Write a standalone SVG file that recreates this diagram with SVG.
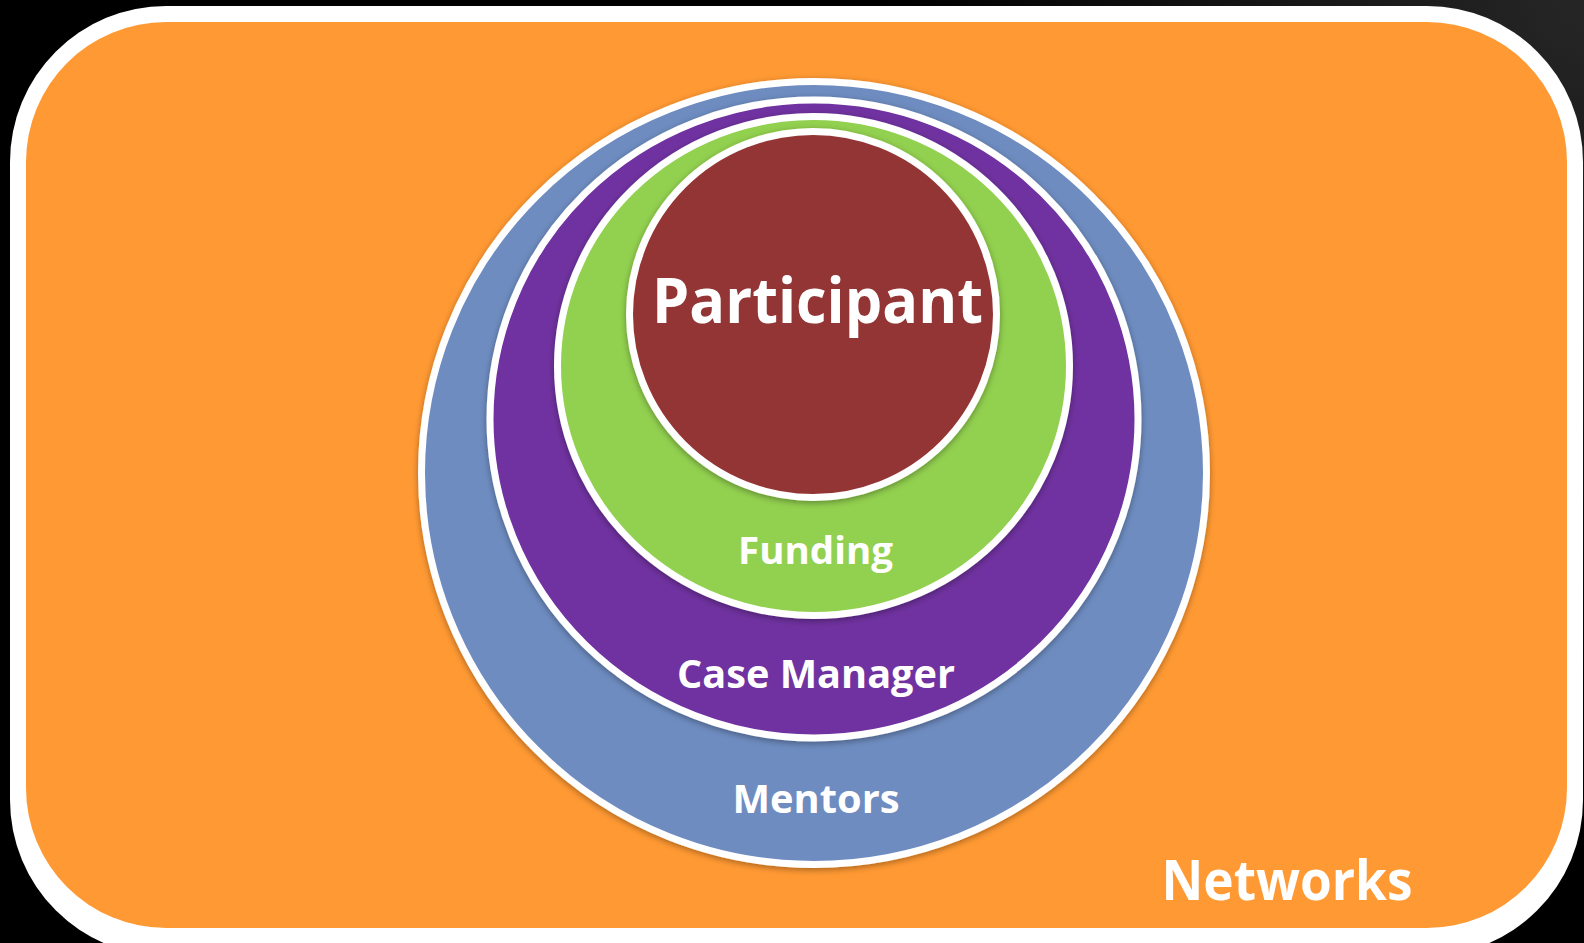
<svg xmlns="http://www.w3.org/2000/svg" width="1584" height="943" viewBox="0 0 1584 943">
  <defs>
    <radialGradient id="bg" cx="1584" cy="0" r="700" gradientUnits="userSpaceOnUse">
      <stop offset="0" stop-color="#262626"/>
      <stop offset="1" stop-color="#000000"/>
    </radialGradient>
    <filter id="sh" x="-10%" y="-10%" width="120%" height="120%">
      <feDropShadow dx="0" dy="2" stdDeviation="3" flood-color="#000" flood-opacity="0.35"/>
    </filter>
  </defs>
  <style>
    .ring { stroke: #ffffff; stroke-width: 7; filter: url(#sh); }
    .lbl { font-family: "Open Sans", Lato, "Liberation Sans", sans-serif; font-weight: 700; fill: #ffffff; text-anchor: middle; font-variant-ligatures: none; }
  </style>
  <rect x="0" y="0" width="1584" height="943" fill="url(#bg)"/>
  <g id="networks">
    <rect x="10" y="6" width="1573" height="950" rx="156" ry="156" fill="#ffffff"/>
    <rect x="26" y="22" width="1541" height="906" rx="140" ry="140" fill="#FF9933"/>
    <text class="lbl" x="1287" y="900" font-size="56" textLength="251" lengthAdjust="spacingAndGlyphs">Networks</text>
  </g>
  <g id="mentors">
    <ellipse class="ring" cx="814" cy="473" rx="392.5" ry="391.5" fill="#6E8CC0"/>
    <text class="lbl" x="816" y="813" font-size="39" textLength="167" lengthAdjust="spacingAndGlyphs">Mentors</text>
  </g>
  <g id="case-manager">
    <ellipse class="ring" cx="814" cy="419" rx="324" ry="319" fill="#7030A0"/>
    <text class="lbl" x="816" y="688" font-size="39" textLength="278" lengthAdjust="spacingAndGlyphs">Case Manager</text>
  </g>
  <g id="funding">
    <ellipse class="ring" cx="813.5" cy="366" rx="256" ry="249.5" fill="#92D050"/>
    <text class="lbl" x="815.5" y="564" font-size="38" textLength="155" lengthAdjust="spacingAndGlyphs">Funding</text>
  </g>
  <g id="participant">
    <ellipse class="ring" cx="813" cy="314.5" rx="183.5" ry="183" fill="#943634"/>
    <text class="lbl" x="817.5" y="323" font-size="63" textLength="331" lengthAdjust="spacingAndGlyphs">Participant</text>
  </g>
</svg>
